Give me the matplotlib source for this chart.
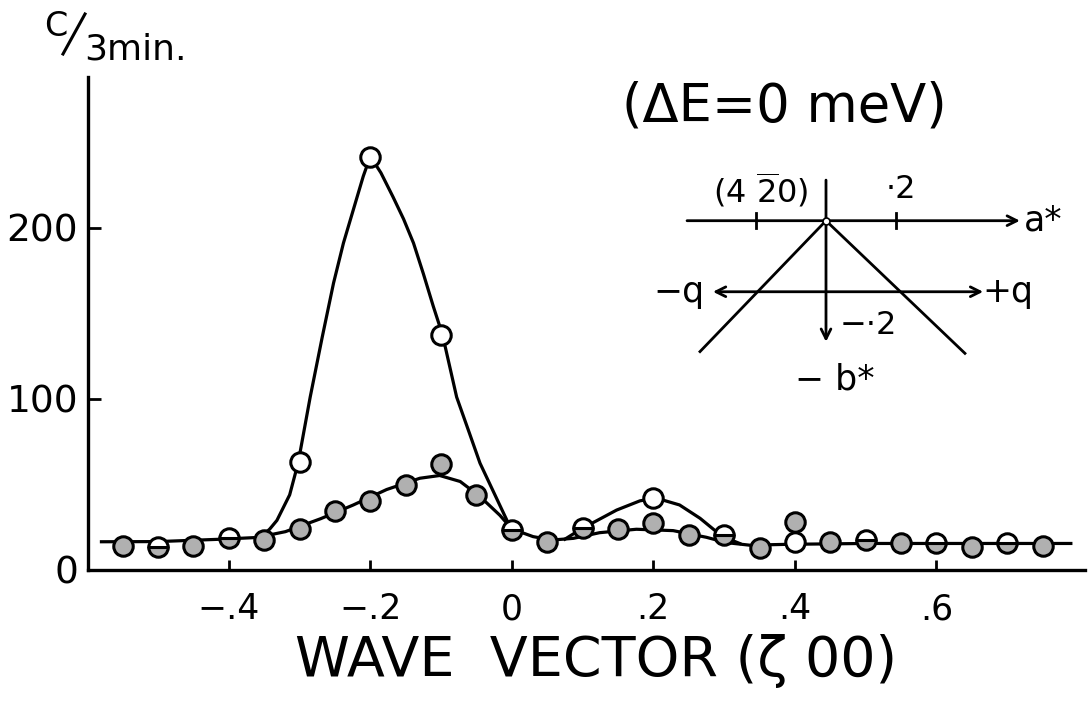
import matplotlib.pyplot as plt
from matplotlib.lines import Line2D

# measured counts (C / 3 min) against wave vector zeta
q_open = [-0.3, -0.2, -0.1, 0.2, 0.4]
c_open = [63, 241, 137, 42, 16.4]
q_fill = [-0.55, -0.45, -0.35, -0.3, -0.25, -0.2, -0.15, -0.1, -0.05, 0.05,
          0.15, 0.2, 0.25, 0.35, 0.4, 0.45, 0.55, 0.65, 0.75]
c_fill = [14, 14, 17.5, 24, 34.7, 40.4, 49.7, 62, 44, 16.6,
          24, 27.4, 20.5, 12.8, 28.3, 16.6, 15.8, 13.6, 14]
q_both = [-0.5, -0.4, 0.0, 0.1, 0.3, 0.5, 0.6, 0.7]
c_both = [13.6, 18.7, 23.4, 24.5, 20.5, 17.5, 15.8, 16]

# hand drawn guide curves
q_lo = [-0.58, -0.50, -0.41, -0.36, -0.32, -0.27, -0.224, -0.177, -0.13, -0.102,
        -0.073, -0.045, -0.017, 0.0, 0.03, 0.057, 0.087, 0.124, 0.176, 0.228,
        0.275, 0.303, 0.336, 0.39, 0.5, 0.6, 0.7, 0.79]
c_lo = [16.5, 16.6, 18, 19, 22.4, 30, 38, 47, 53.6, 55.2,
        51.7, 42.9, 32, 24, 19.5, 17.5, 18.5, 21.8, 23.8, 23,
        19.1, 16, 14.5, 15, 15.5, 15.5, 15.5, 15.5]
q_hi = [-0.351, -0.342, -0.332, -0.314, -0.302, -0.285, -0.268, -0.252, -0.238,
        -0.224, -0.21, -0.2, -0.185, -0.168, -0.153, -0.139, -0.125, -0.111,
        -0.098, -0.078, -0.06, -0.045, -0.005]
c_hi = [20.5, 24, 29, 43.9, 62.6, 101, 136, 167.6, 191,
        210.5, 230, 241.7, 232, 218, 205, 191, 173, 154,
        137.4, 101, 80, 62.4, 27.3]
q_hump = [0.075, 0.1, 0.115, 0.148, 0.181, 0.204, 0.237, 0.266, 0.289, 0.301, 0.322]
c_hump = [18, 24.5, 27.7, 35, 40.4, 42, 38, 30.2, 22.4, 19, 15.5]

xticks = [-0.4, -0.2, 0, 0.2, 0.4, 0.6]
xticklabels = ['\u2212.4', '\u2212.2', '0', '.2', '.4', '.6']
yticks = [0, 100, 200]

plt.rcParams.update({
    'font.family': 'DejaVu Sans',
    'mathtext.fontset': 'dejavusans',
})

W, H = 1089, 704
fig = plt.figure(figsize=(W / 100, H / 100), dpi=100)


def fx(x):
    return x / W


def fy(y):
    return 1 - y / H


ax = fig.add_axes([fx(88), fy(570), fx(997), 493 / H])
ax.set_xlim(-0.599, 0.81)
ax.set_ylim(0, 288)

lw = 2.3
ax.plot(q_lo, c_lo, color='k', lw=lw, solid_joinstyle='round', zorder=2)
ax.plot(q_hi, c_hi, color='k', lw=lw, solid_joinstyle='round', zorder=2)
ax.plot(q_hump, c_hump, color='k', lw=lw, solid_joinstyle='round', zorder=2)

ms = 14
mew = 2.2
ax.plot(q_fill, c_fill, 'o', ms=ms, mfc='#b0b0b0', mec='k', mew=mew, zorder=3)
ax.plot(q_both, c_both, 'o', ms=ms, mfc='#b0b0b0', mfcalt='white',
        fillstyle='bottom', mec='k', mew=mew, zorder=3)
ax.plot(q_open, c_open, 'o', ms=ms, mfc='white', mec='k', mew=mew, zorder=4)

for s in ['top', 'right']:
    ax.spines[s].set_visible(False)
for s in ['left', 'bottom']:
    ax.spines[s].set_linewidth(2.4)

ax.set_xticks(xticks)
ax.set_xticklabels(xticklabels)
ax.set_yticks(yticks)
ax.tick_params(axis='x', direction='in', length=7, width=2, pad=16, labelsize=25)
ax.tick_params(axis='y', direction='in', length=9, width=2, pad=7, labelsize=27)

fig.text(fx(596), fy(661), 'WAVE  VECTOR (\u03b6 00)', fontsize=40,
         ha='center', va='center')
fig.text(fx(784), fy(106), '(\u0394E=0 meV)', fontsize=38, ha='center', va='center')

# y unit label  C/3min.
fig.text(fx(56), fy(27), 'C', fontsize=24, ha='center', va='center')
fig.add_artist(Line2D([fx(63), fx(85)], [fy(54), fy(14)], lw=2.2, color='k'))
fig.text(fx(84), fy(49), '3min.', fontsize=26, ha='left', va='center')

# inset: scattering geometry around (4 -2 0), 350 px per r.l.u.
ox, oy, sc = 826, 220.7, 350.0
ins = fig.add_axes([fx(640), fy(410), fx(435), 245 / H])
ins.set_xlim((640 - ox) / sc, (1075 - ox) / sc)
ins.set_ylim((oy - 410) / sc, (oy - 165) / sc)
ins.axis('off')

arr = dict(arrowstyle='->,head_length=0.7,head_width=0.35', lw=2, color='k',
           shrinkA=0, shrinkB=0)
ins.annotate('', xy=(0.554, 0), xytext=(-0.397, 0), arrowprops=arr)
ins.annotate('', xy=(0, -0.346), xytext=(0, 0.116), arrowprops=arr)
ins.annotate('', xy=(0.449, -0.203), xytext=(-0.323, -0.203),
             arrowprops=dict(arr, arrowstyle='<->,head_length=0.7,head_width=0.35'))
for t in [-0.2, 0.2]:
    ins.plot([t, t], [-0.022, 0.022], color='k', lw=2)
ins.plot([0, -0.36], [0, -0.374], color='k', lw=2)
ins.plot([0, 0.397], [0, -0.379], color='k', lw=2)
ins.plot([0], [0], 'o', ms=5, mfc='white', mec='k', mew=1.2, zorder=5)

fs = 23
ins.text(-0.186, 0.088, r'(4 $\overline{2}$0)', fontsize=fs, ha='center', va='center')
ins.text(0.215, 0.088, '\u00b72', fontsize=fs, ha='center', va='center')
ins.text(0.62, 0.0, 'a*', fontsize=fs + 2, ha='center', va='center')
ins.text(-0.42, -0.203, '\u2212q', fontsize=fs + 2, ha='center', va='center')
ins.text(0.52, -0.203, '+q', fontsize=fs + 2, ha='center', va='center')
ins.text(0.12, -0.30, '\u2212\u00b72', fontsize=fs, ha='center', va='center')
ins.text(0.026, -0.455, '\u2212 b*', fontsize=fs + 2, ha='center', va='center')

fig.savefig('out.png', dpi=100)
